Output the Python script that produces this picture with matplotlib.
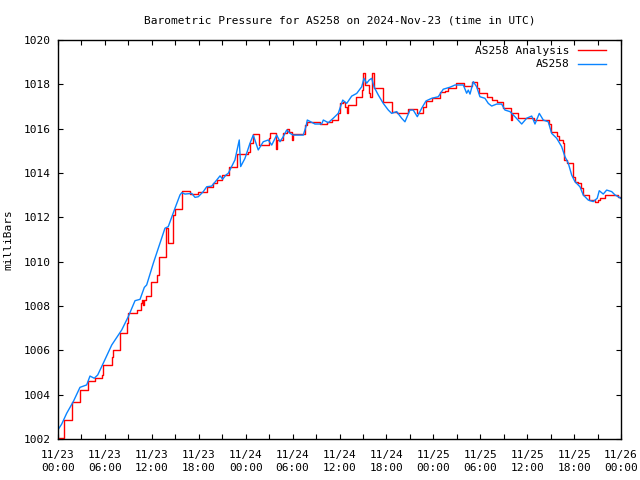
#!/usr/bin/env python3
"""Barometric pressure at AS258: analysis (steps) vs. station observations."""

import matplotlib

matplotlib.use("Agg")
import matplotlib.pyplot as plt
import numpy as np

# hours since 2024-11-23 00:00 UTC, pressure in mbar
obs_hours = [
    0.04, 0.47, 1.11, 1.96, 2.81, 3.67, 4.09, 4.64, 5.08, 5.79, 6.87, 8.15, 8.99,
    9.85, 10.49, 11.04, 11.34, 12.19, 13.04, 13.68, 14.10, 14.96, 15.60, 15.82,
    16.24, 17.10, 17.52, 17.94, 18.58, 19.02, 19.65, 20.29, 20.72, 21.06, 21.48,
    21.78, 21.99, 22.63, 23.18, 23.36, 23.91, 24.55, 24.97, 25.61, 26.25, 26.89,
    27.33, 27.97, 28.39, 28.81, 29.25, 29.67, 30.09, 31.37, 31.71, 31.88, 32.86,
    33.72, 33.93, 34.57, 35.20, 35.84, 36.41, 36.92, 37.56, 38.20, 38.84, 39.13,
    39.48, 39.81, 40.12, 40.41, 40.96, 41.60, 42.24, 42.67, 43.31, 43.95, 44.37,
    45.01, 45.43, 45.95, 46.51, 47.06, 47.79, 48.63, 49.27, 50.13, 50.77, 51.83,
    52.26, 52.47, 52.69, 53.11, 53.54, 53.96, 54.60, 55.03, 55.46, 56.10, 56.74,
    57.16, 57.80, 58.44, 59.30, 59.94, 60.58, 61.00, 61.55, 62.06, 62.70, 63.13,
    63.77, 64.41, 64.83, 65.26, 65.69, 66.11, 66.75, 67.17, 67.81, 68.45, 68.96,
    69.22, 69.73, 70.17, 70.81, 71.23, 71.65, 71.95,
]
obs_mbar = [
    1002.44, 1002.67, 1003.16, 1003.69, 1004.33, 1004.44, 1004.84, 1004.74,
    1004.89, 1005.42, 1006.24, 1006.92, 1007.52, 1008.24, 1008.30, 1008.84,
    1008.95, 1009.93, 1010.83, 1011.51, 1011.58, 1012.41, 1013.01, 1013.11,
    1013.05, 1013.08, 1012.90, 1012.93, 1013.16, 1013.38, 1013.41, 1013.68,
    1013.87, 1013.72, 1013.91, 1013.99, 1014.14, 1014.59, 1015.49, 1014.29,
    1014.66, 1015.34, 1015.71, 1015.04, 1015.41, 1015.49, 1015.26, 1015.71,
    1015.41, 1015.64, 1015.94, 1015.79, 1015.71, 1015.71, 1016.09, 1016.39,
    1016.21, 1016.21, 1016.39, 1016.27, 1016.47, 1016.69, 1017.29, 1017.14,
    1017.47, 1017.59, 1017.89, 1018.27, 1018.05, 1018.20, 1018.27, 1017.89,
    1017.52, 1017.14, 1016.84, 1016.69, 1016.77, 1016.47, 1016.31, 1016.84,
    1016.84, 1016.54, 1016.92, 1017.25, 1017.37, 1017.44, 1017.78, 1017.87,
    1017.97, 1017.97, 1017.60, 1017.74, 1017.56, 1018.12, 1017.89, 1017.44,
    1017.37, 1017.14, 1017.02, 1017.11, 1017.11, 1016.84, 1016.77, 1016.54,
    1016.21, 1016.47, 1016.57, 1016.21, 1016.69, 1016.39, 1016.31, 1015.79,
    1015.57, 1015.19, 1014.74, 1014.44, 1013.91, 1013.61, 1013.38, 1013.01,
    1012.78, 1012.71, 1012.86, 1013.20, 1013.05, 1013.23, 1013.16, 1013.01,
    1012.93, 1012.86,
]

ana_hours = [
    0.0, 0.77, 1.83, 2.81, 3.87, 4.73, 5.59, 5.79, 6.87, 7.07, 7.93, 8.79, 8.91,
    10.06, 10.61, 10.70, 10.91, 11.04, 11.25, 11.85, 12.70, 12.95, 13.77, 14.10,
    14.74, 14.96, 15.82, 16.88, 17.94, 19.02, 19.78, 20.29, 20.93, 21.91, 22.85,
    24.34, 24.55, 24.97, 25.74, 27.02, 27.11, 27.88, 28.04, 28.81, 29.25, 29.58,
    29.88, 30.09, 31.59, 31.88, 33.50, 34.36, 35.00, 35.84, 36.06, 36.48, 36.70,
    36.92, 37.12, 38.11, 38.84, 39.04, 39.26, 39.81, 39.90, 40.12, 40.41, 41.60,
    42.67, 43.31, 44.80, 45.95, 46.71, 47.06, 47.79, 48.85, 49.49, 49.91, 50.90,
    51.92, 52.90, 53.62, 53.87, 54.82, 55.46, 56.18, 56.94, 57.93, 58.06, 58.79,
    60.87, 62.83, 63.00, 63.77, 64.10, 64.54, 64.71, 65.05, 65.82, 66.11, 66.53,
    66.84, 67.10, 67.94, 68.67, 69.09, 69.31, 69.95, 71.65, 72.0,
]
ana_mbar = [
    1002.03, 1002.86, 1003.66, 1004.21, 1004.62, 1004.74, 1004.89, 1005.34,
    1005.69, 1006.02, 1006.77, 1007.22, 1007.67, 1007.82, 1008.12, 1008.27,
    1008.05, 1008.27, 1008.45, 1009.10, 1009.40, 1010.20, 1011.51, 1010.86,
    1012.11, 1012.36, 1013.20, 1013.05, 1013.16, 1013.38, 1013.56, 1013.68,
    1013.91, 1014.29, 1014.84, 1014.96, 1015.34, 1015.75, 1015.26, 1015.56,
    1015.79, 1015.07, 1015.49, 1015.79, 1015.97, 1015.87, 1015.49, 1015.75,
    1016.17, 1016.31, 1016.21, 1016.31, 1016.39, 1016.72, 1017.14, 1017.22,
    1016.99, 1016.72, 1017.07, 1017.44, 1017.74, 1018.50, 1017.97, 1017.60,
    1017.44, 1018.50, 1017.82, 1017.22, 1016.77, 1016.69, 1016.87, 1016.69,
    1016.99, 1017.26, 1017.37, 1017.67, 1017.71, 1017.82, 1018.07, 1017.92,
    1018.12, 1017.82, 1017.62, 1017.44, 1017.29, 1017.22, 1016.92, 1016.39,
    1016.72, 1016.50, 1016.39, 1016.21, 1015.86, 1015.67, 1015.49, 1015.34,
    1014.59, 1014.47, 1013.83, 1013.61, 1013.54, 1013.31, 1013.01, 1012.78,
    1012.71, 1012.78, 1012.86, 1013.01, 1012.93, 1012.90,
]

tick_hours = [0, 6, 12, 18, 24, 30, 36, 42, 48, 54, 60, 66, 72]
tick_labels = [
    "11/23\n00:00", "11/23\n06:00", "11/23\n12:00", "11/23\n18:00",
    "11/24\n00:00", "11/24\n06:00", "11/24\n12:00", "11/24\n18:00",
    "11/25\n00:00", "11/25\n06:00", "11/25\n12:00", "11/25\n18:00",
    "11/26\n00:00",
]
y_ticks = [1002, 1004, 1006, 1008, 1010, 1012, 1014, 1016, 1018, 1020]

plt.rcParams["font.family"] = ["DejaVu Sans Mono"]
plt.rcParams["font.size"] = 8

fig = plt.figure(figsize=(6.4, 4.8), dpi=100)
ax = fig.add_axes([58 / 640, 1 - 439 / 480, 563 / 640, 399 / 480])

ax.plot(ana_hours, ana_mbar, drawstyle="steps-post", color="#ff0000",
        lw=1.0, label="AS258 Analysis")
ax.plot(obs_hours, obs_mbar, color="#0a84ff", lw=1.0, label="AS258")

ax.set_xlim(0, 72)
ax.set_ylim(1002, 1020)
ax.set_xticks(tick_hours, tick_labels, linespacing=1.4)
ax.set_xticks(np.arange(3, 72, 6), minor=True)
ax.set_yticks(y_ticks, [str(v) for v in y_ticks])
ax.tick_params(which="both", direction="in", top=True, right=True,
               length=3.5, width=0.8)
ax.tick_params(axis="x", pad=8)
ax.tick_params(axis="y", pad=5)
for side in ax.spines.values():
    side.set_linewidth(1.0)

ax.set_ylabel("milliBars", labelpad=8)
ax.set_title("Barometric Pressure for AS258 on 2024-Nov-23 (time in UTC)",
             pad=12, fontsize=8)
ax.legend(loc="upper right", bbox_to_anchor=(0.984, 1.0), frameon=False,
          markerfirst=False, handlelength=2.6, handletextpad=0.7,
          borderaxespad=0.3, borderpad=0.2, labelspacing=0.35)

fig.savefig("out.png", dpi=100)
